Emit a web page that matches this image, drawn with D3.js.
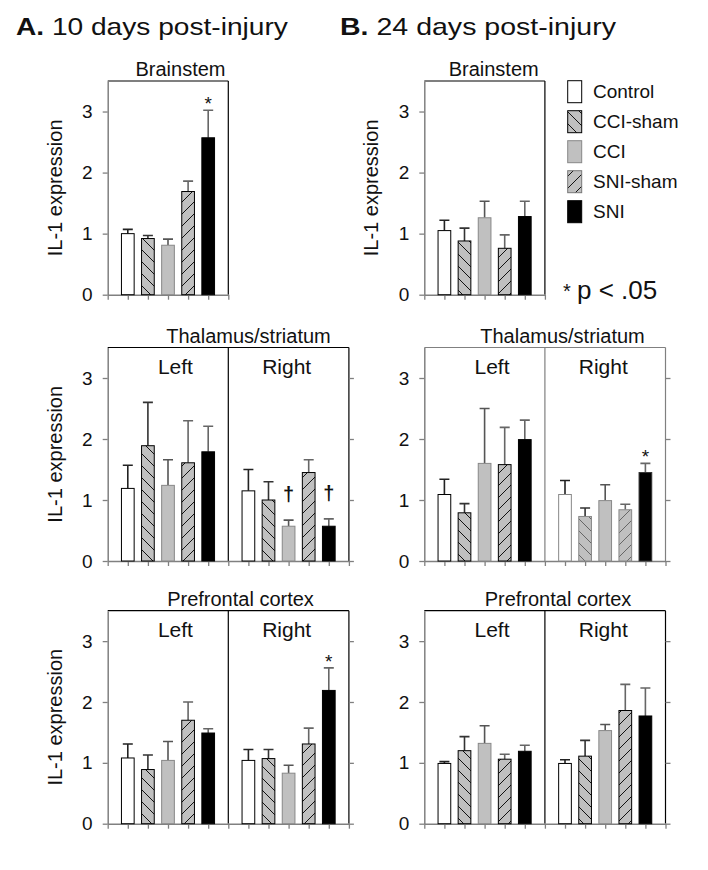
<!DOCTYPE html>
<html><head><meta charset="utf-8">
<script src="https://cdn.jsdelivr.net/npm/d3@7"></script>
<style>
body{margin:0;background:#fff}
svg{display:block}
text{font-family:"Liberation Sans",Arial,sans-serif;fill:#111}
</style>
</head><body>
<svg id="c" width="708" height="870"></svg>
<script>
// ---------- DATA ----------
const groups = ["Control", "CCI-sham", "CCI", "SNI-sham", "SNI"];
const yTicks = [0, 1, 2, 3];
const sides = ["Left", "Right"];

// A. 10 days post-injury
const aBrainMean = [1.00, 0.92, 0.81, 1.69, 2.57];
const aBrainErr  = [0.07, 0.05, 0.10, 0.17, 0.45];
const aBrainSig  = ["", "", "", "", "*"];
const aThalLMean = [1.19, 1.89, 1.24, 1.61, 1.79];
const aThalLErr  = [0.38, 0.71, 0.42, 0.69, 0.42];
const aThalRMean = [1.15, 1.00, 0.57, 1.45, 0.57];
const aThalRErr  = [0.35, 0.30, 0.10, 0.21, 0.12];
const aThalRSig  = ["", "", "\u2020", "", "\u2020"];
const aPfcLMean  = [1.08, 0.89, 1.04, 1.70, 1.49];
const aPfcLErr   = [0.23, 0.24, 0.31, 0.30, 0.07];
const aPfcRMean  = [1.04, 1.07, 0.83, 1.31, 2.19];
const aPfcRErr   = [0.18, 0.15, 0.13, 0.26, 0.37];
const aPfcRSig   = ["", "", "", "", "*"];

// B. 24 days post-injury
const bBrainMean = [1.05, 0.88, 1.26, 0.76, 1.28];
const bBrainErr  = [0.17, 0.21, 0.27, 0.22, 0.25];
const bThalLMean = [1.09, 0.79, 1.60, 1.58, 1.99];
const bThalLErr  = [0.25, 0.15, 0.90, 0.61, 0.32];
const bThalRMean = [1.09, 0.73, 0.99, 0.84, 1.45];
const bThalRErr  = [0.23, 0.14, 0.26, 0.09, 0.15];
const bThalRSig  = ["", "", "", "", "*"];
const bPfcLMean  = [0.99, 1.20, 1.32, 1.06, 1.19];
const bPfcLErr   = [0.03, 0.23, 0.29, 0.08, 0.10];
const bPfcRMean  = [0.99, 1.11, 1.53, 1.86, 1.77];
const bPfcRErr   = [0.06, 0.26, 0.10, 0.43, 0.46];
const none = ["", "", "", "", ""];

// ---------- LAYOUT ----------
const svg = d3.select("#c");
const defs = svg.append("defs");
const GREY = "#c0c0c0";
function hatch(id, back, color) {
  const p = defs.append("pattern").attr("id", id)
    .attr("patternUnits", "userSpaceOnUse").attr("width", 12).attr("height", 12);
  p.append("rect").attr("width", 12).attr("height", 12).attr("fill", GREY);
  p.append("path").attr("d", back ? "M-2,-2L14,14" : "M-2,14L14,-2")
    .attr("stroke", color).attr("stroke-width", 1).attr("fill", "none");
}
hatch("hb", true, "#111");
hatch("hf", false, "#111");
hatch("hbg", true, "#666");
hatch("hfg", false, "#666");

const fills = ["#fff", "url(#hb)", GREY, "url(#hf)", "#000"];
const fillsFaint = ["#fff", "url(#hbg)", GREY, "url(#hfg)", "#000"];
const strokes = ["#000", "#000", "#888", "#000", "#000"];
const errCol = ["#222", "#333", "#555", "#666", "#666"];

const colLeft = [107.7, 424.3];
const rowTop = [81, 347.5, 610.7];
const rowBot = [294.7, 561, 823.7];
const secW = 120.6;
const barW = 12.7;
const AXG = "#808080";

const panels = [
  {col:0,row:0,title:"Brainstem",tx:72.8,ylab:true,
   secs:[{m:aBrainMean,e:aBrainErr,s:aBrainSig}]},
  {col:0,row:1,title:"Thalamus/striatum",tx:140.8,ylab:true,
   secs:[{m:aThalLMean,e:aThalLErr,s:none},{m:aThalRMean,e:aThalRErr,s:aThalRSig}]},
  {col:0,row:2,title:"Prefrontal cortex",tx:132.8,ylab:true,
   secs:[{m:aPfcLMean,e:aPfcLErr,s:none},{m:aPfcRMean,e:aPfcRErr,s:aPfcRSig}]},
  {col:1,row:0,title:"Brainstem",tx:69.4,ylab:true,
   secs:[{m:bBrainMean,e:bBrainErr,s:none}]},
  {col:1,row:1,title:"Thalamus/striatum",tx:138.2,ylab:false,frame:AXG,
   secs:[{m:bThalLMean,e:bThalLErr,s:none},{m:bThalRMean,e:bThalRErr,s:bThalRSig,faint:true}]},
  {col:1,row:2,title:"Prefrontal cortex",tx:133.7,ylab:false,
   secs:[{m:bPfcLMean,e:bPfcLErr,s:none},{m:bPfcRMean,e:bPfcRErr,s:none}]}
];

panels.forEach(p => {
  const n = p.secs.length;
  const left = colLeft[p.col], right = left + secW * n;
  const top = rowTop[p.row], bot = rowBot[p.row];
  const y = d3.scaleLinear().domain([0, 3.5]).range([bot, top]);
  const x = d3.scaleLinear().domain([0, 6 * n]).range([left, right]);
  const g = svg.append("g");
  const frame = p.frame || "#000";

  // frame: top, right, divider
  g.append("line").attr("x1", left).attr("x2", right).attr("y1", top).attr("y2", top)
    .attr("stroke", frame).attr("stroke-width", 1.2);
  g.append("line").attr("x1", right).attr("x2", right).attr("y1", top).attr("y2", bot)
    .attr("stroke", frame).attr("stroke-width", 1.2);
  if (n === 2) {
    g.append("line").attr("x1", x(6)).attr("x2", x(6)).attr("y1", top).attr("y2", bot)
      .attr("stroke", frame).attr("stroke-width", 1.2);
    // right-side ticks
    const ra = g.append("g").attr("transform", `translate(${right},0)`)
      .call(d3.axisRight(y).tickValues(yTicks).tickSize(5).tickSizeOuter(0).tickFormat(""));
    ra.select(".domain").remove();
    ra.selectAll("line").attr("stroke", AXG).attr("stroke-width", 1.3);
    // Left / Right labels
    g.append("text").attr("x", left + 67.7).attr("y", top + 26).attr("text-anchor", "middle")
      .attr("font-size", 21).text(sides[0]);
    g.append("text").attr("x", left + 179).attr("y", top + 26).attr("text-anchor", "middle")
      .attr("font-size", 21).text(sides[1]);
  }

  // left axis
  const la = g.append("g").attr("transform", `translate(${left},0)`)
    .call(d3.axisLeft(y).tickValues(yTicks).tickFormat(d3.format("d"))
      .tickSize(5).tickSizeOuter(0).tickPadding(10));
  la.select(".domain").attr("stroke", AXG).attr("stroke-width", 1.5);
  la.selectAll(".tick line").attr("stroke", AXG).attr("stroke-width", 1.3);
  la.selectAll(".tick text").attr("font-size", 19).attr("fill", "#111")
    .attr("font-family", '"Liberation Sans",Arial,sans-serif');

  // bottom axis
  const ba = g.append("g").attr("transform", `translate(0,${bot})`)
    .call(d3.axisBottom(x).tickValues(d3.range(0, 6 * n + 1)).tickSize(5).tickSizeOuter(0).tickFormat(""));
  ba.select(".domain").attr("stroke", AXG).attr("stroke-width", 1.5);
  ba.selectAll(".tick line").attr("stroke", AXG).attr("stroke-width", 1.3);

  // bars
  p.secs.forEach((sec, si) => {
    const fl = sec.faint ? fillsFaint : fills;
    const st = sec.faint ? ["#888", "#888", "#888", "#888", "#333"] : strokes;
    const data = groups.map((gname, i) => ({g: gname, i, m: sec.m[i], e: sec.e[i], s: sec.s[i], cx: x(si * 6 + i + 1)}));
    const bg = g.append("g");
    bg.selectAll(".eb").data(data).join("path").attr("class", "eb")
      .attr("d", d => `M${d.cx},${y(d.m)}V${y(d.m + d.e)}M${d.cx - 5},${y(d.m + d.e)}H${d.cx + 5}`)
      .attr("stroke", d => errCol[d.i]).attr("stroke-width", 1.6).attr("fill", "none");
    bg.selectAll(".bar").data(data).join("rect").attr("class", "bar")
      .attr("x", d => d.cx - barW / 2).attr("width", barW)
      .attr("y", d => y(d.m)).attr("height", d => y(0) - y(d.m))
      .attr("fill", d => fl[d.i]).attr("stroke", d => st[d.i]).attr("stroke-width", 1);
    bg.selectAll(".sig").data(data.filter(d => d.s)).join("text").attr("class", "sig")
      .attr("x", d => d.cx).attr("text-anchor", "middle")
      .attr("y", d => d.s === "*" ? y(d.m + d.e) : y(d.m + d.e) - 19)
      .attr("font-size", d => d.s === "*" ? 19 : 20)
      .attr("font-weight", d => d.s === "*" ? "normal" : "bold")
      .text(d => d.s);
  });

  // panel title
  g.append("text").attr("x", left + p.tx).attr("y", top - 5).attr("text-anchor", "middle")
    .attr("font-size", 20).text(p.title);

  // y label
  if (p.ylab) {
    const lx = p.col === 0 ? 61.7 : 378;
    g.append("text").attr("transform", `translate(${lx},${(top + bot) / 2}) rotate(-90)`)
      .attr("text-anchor", "middle").attr("font-size", 20).text("IL-1 expression");
  }
});

// Main titles
function mainTitle(x, yb, letter, rest, targetW) {
  const t = svg.append("text").attr("font-size", 24).attr("x", 0).attr("y", 0);
  t.append("tspan").attr("font-weight", "bold").text(letter);
  t.append("tspan").text(rest);
  const w = t.node().getBBox().width;
  t.attr("transform", `translate(${x},${yb}) scale(${targetW / w},1)`);
}
mainTitle(16, 35, "A.", " 10 days post-injury", 272);
mainTitle(340, 35, "B.", " 24 days post-injury", 276);

// Legend
const leg = svg.append("g");
const legFills = ["#fff", "url(#hb)", GREY, "url(#hf)", "#000"];
const legStroke = ["#000", "#000", "#888", "#777", "#000"];
groups.forEach((gname, i) => {
  const yy = 80.7 + i * 30;
  leg.append("rect").attr("x", 567.7).attr("y", yy).attr("width", 14).attr("height", 22)
    .attr("fill", legFills[i]).attr("stroke", legStroke[i]).attr("stroke-width", 1);
  leg.append("text").attr("x", 593).attr("y", yy + 17).attr("font-size", 19).text(gname);
});
svg.append("text").attr("x", 563).attr("y", 298).attr("font-size", 20).text("*");
svg.append("text").attr("x", 577).attr("y", 299).attr("font-size", 26).text("p < .05");
</script>
</body></html>
